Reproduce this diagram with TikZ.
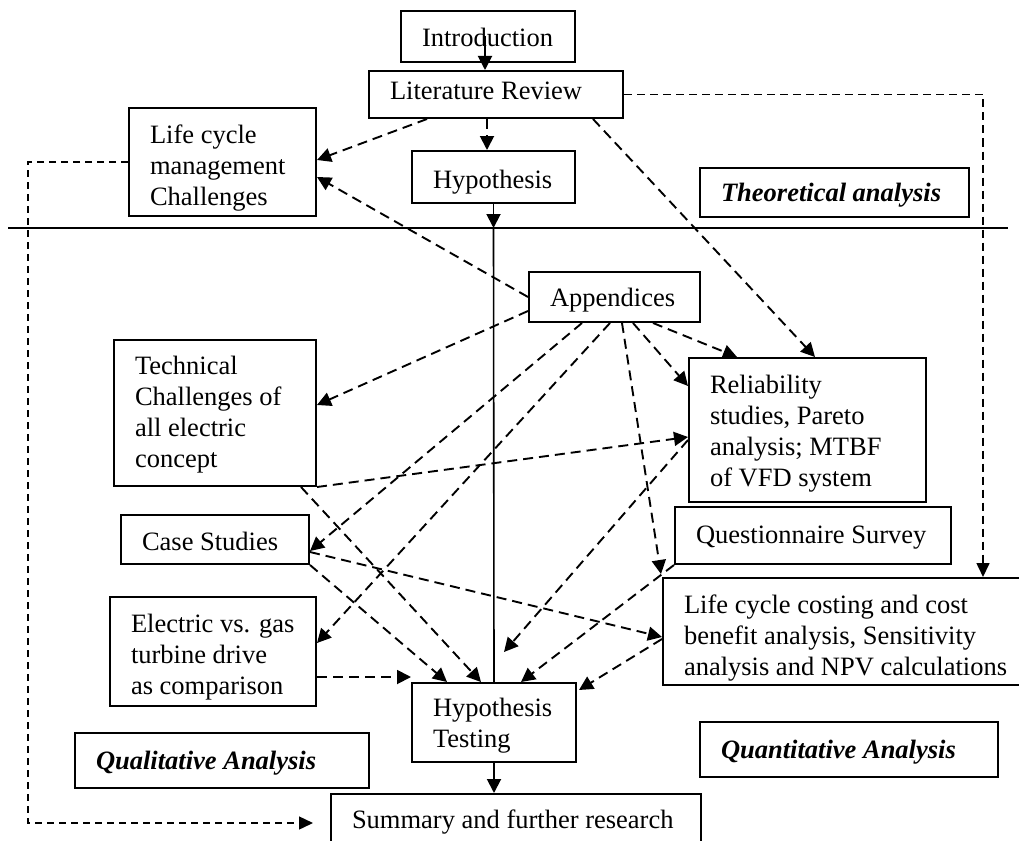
\documentclass[tikz,border=0pt]{standalone}
\usepackage{fontspec}
\setmainfont{Liberation Serif}
\usetikzlibrary{arrows.meta,calc}

% Fixed-size text box: width, height, first-line height, content
\newcommand\boxtext[4]{%
  \parbox[c][#2pt][t]{#1pt}{\raggedright\leftskip=21pt\rule{0pt}{#3pt}#4}}

\begin{document}
\begin{tikzpicture}[x=1pt,y=-1pt,
  every node/.style={font=\fontsize{26.5}{31}\selectfont},
  box/.style={draw, line width=2pt, inner sep=0pt, anchor=north west},
  sarr/.style={-{Triangle[length=14pt,width=14pt]}, line width=1.9pt},
  dcon/.style={-{Triangle[length=14pt,width=14pt]}, line width=1.9pt, dash pattern=on 10pt off 6pt},
  mcon/.style={-{Triangle[length=14pt,width=13pt]}, line width=1.6pt, dash pattern=on 8pt off 5pt},
  fcon/.style={-{Triangle[length=14pt,width=13pt]}, line width=1.4pt, dash pattern=on 7pt off 5pt}]
\useasboundingbox (0,0) rectangle (1019,840);

% boxes
\node[box] (intro)   at (400,10)  {\boxtext{174}{51}{36}{Introduction}};
\node[box] (lit)     at (368,70)  {\boxtext{254}{47}{29}{Literature Review}};
\node[box] (lcm)     at (128,107) {\boxtext{187}{108}{35}{Life cycle\\management\\Challenges}};
\node[box] (hyp)     at (411,150) {\boxtext{163}{52}{37}{Hypothesis}};
\node[box] (theo)    at (699,167) {\boxtext{269}{49}{33}{\textbf{\textit{Theoretical analysis}}}};
\node[box] (app)     at (528,271) {\boxtext{171}{50}{34}{Appendices}};
\node[box] (tech)    at (113,339) {\boxtext{202}{146}{34}{Technical\\Challenges of\\all electric\\concept}};
\node[box] (rel)     at (688,357) {\boxtext{237}{144}{35}{Reliability\\studies, Pareto\\analysis; MTBF\\of VFD system}};
\node[box] (quest)   at (674,506) {\boxtext{276}{57}{36}{Questionnaire Survey}};
\node[box] (case)    at (120,514) {\boxtext{188}{49}{35}{Case Studies}};
\node[box] (elec)    at (109,596) {\boxtext{206}{109}{35}{Electric vs. gas\\turbine drive\\as comparison}};
\node[box] (lcc)     at (662,577) {\boxtext{370}{107}{35}{Life cycle costing and cost\\benefit analysis, Sensitivity\\analysis and NPV calculations}};
\node[box] (hyptest) at (411,682) {\boxtext{164}{79}{33}{Hypothesis\\Testing}};
\node[box] (qual)    at (74,732)  {\boxtext{294}{55}{36}{\textbf{\textit{Qualitative Analysis}}}};
\node[box] (quant)   at (699,721) {\boxtext{298}{55}{36}{\textbf{\textit{Quantitative Analysis}}}};
\node[box] (summ)    at (330,793) {\boxtext{370}{60}{34}{Summary and further research}};

% divider between theoretical and empirical parts
\coordinate (divl) at (8,228);
\coordinate (divr) at (1008,228);
\draw[line width=1.6pt] (divl) -- (divr);

% main flow
\draw[sarr] ($(intro.south west)+(85,-27)$) -- ($(lit.north west)+(117,0)$);
\draw[dcon] ($(lit.south west)+(119,0)$) -- ($(hyp.north west)+(76,0)$);
\draw[sarr] (hyp.south) -- (hyp.south |- divl);
\draw[line width=1.6pt] (hyp.south |- divl) -- (hyptest.north);
\draw[sarr] (hyptest.south) -- (hyptest.south |- summ.north);

% from the literature review
\draw[dcon] ($(lit.south west)+(59,0)$) -- ($(lcm.north east)+(0,53)$);
\draw[dcon] ($(lit.south west)+(225,0)$) -- ($(rel.north west)+(127,0)$);
\draw[mcon] (lit.east) -| ($(lcc.north west)+(321,0)$);

% from the appendices
\draw[dcon] (app.west) -- ($(lcm.north east)+(0,70)$);
\draw[dcon] ($(app.north west)+(0,40)$) -- ($(tech.north east)+(0,66)$);
\draw[dcon] ($(app.south west)+(54,0)$) -- ($(case.north east)+(0,37)$);
\draw[dcon] ($(app.south west)+(82,0)$) -- ($(elec.north east)+(0,47)$);
\draw[dcon] ($(app.south west)+(94,0)$) -- ($(lcc.north west)+(-1,-3)$);
\draw[dcon] ($(app.south west)+(105,0)$) -- ($(rel.north west)+(0,29)$);
\draw[dcon] ($(app.south west)+(125,0)$) -- ($(rel.north west)+(49,0)$);

% qualitative studies
\draw[dcon] (tech.south east) -- ($(rel.north west)+(0,80)$);
\draw[dcon] ($(tech.south east)+(-16,0)$) -- ($(hyptest.north west)+(70,0)$);
\draw[dcon] (case.south east) -- ($(hyptest.north west)+(36,0)$);
\draw[dcon] ($(case.north east)+(0,38)$) -- ($(lcc.north west)+(0,60)$);
\draw[dcon] ($(elec.north east)+(0,81)$) -- ($(hyptest.north west)+(0,-5)$);

% quantitative studies
\draw[dcon] ($(rel.north west)+(0,83)$) -- ($(hyptest.north west)+(93,-30)$);
\draw[dcon] (quest.south west) -- ($(hyptest.north west)+(110,0)$);
\draw[dcon] ($(lcc.north west)+(0,62)$) -- ($(hyptest.north east)+(2,8)$);

% life cycle management to summary
\draw[fcon] (lcm.west) -- ++(-100,0) |- ($(summ.north west)+(-17,30)$);
\end{tikzpicture}
\end{document}
